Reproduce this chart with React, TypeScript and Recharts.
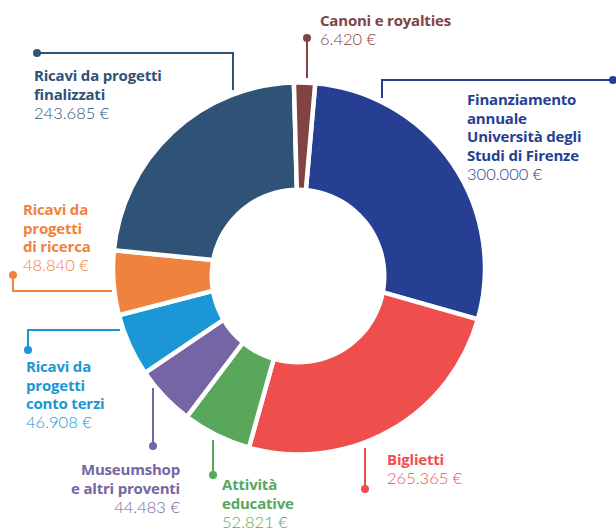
import React from "react";
import { Cell, Customized, Pie, PieChart } from "recharts";

const names = [
  "Finanziamento annuale Università degli Studi di Firenze",
  "Biglietti",
  "Attività educative",
  "Museumshop e altri proventi",
  "Ricavi da progetti conto terzi",
  "Ricavi da progetti di ricerca",
  "Ricavi da progetti finalizzati",
  "Canoni e royalties"
];
const values = [300000, 265365, 52821, 44483, 46908, 48840, 243685, 6420];
const valueLabels = [
  "300.000 €",
  "265.365 €",
  "52.821 €",
  "44.483 €",
  "46.908 €",
  "48.840 €",
  "243.685 €",
  "6.420 €"
];
const titleLines = [
  ["Finanziamento", "annuale", "Università degli", "Studi di Firenze"],
  ["Biglietti"],
  ["Attività", "educative"],
  ["Museumshop", "e altri proventi"],
  ["Ricavi da", "progetti", "conto terzi"],
  ["Ricavi da", "progetti", "di ricerca"],
  ["Ricavi da progetti", "finalizzati"],
  ["Canoni e royalties"]
];
const colors = ["#263f93", "#ef4f4c", "#58a75b", "#7565a4", "#1a97d4", "#f08240", "#2f5277", "#814344"];

// label placement: text anchor point + leader polyline (last point gets the dot)
const labelLayout = [
  { x: 467, y: 105, anchor: "start", line: [[382, 98], [382, 80], [613, 80]] },
  { x: 387, y: 465, anchor: "start", line: [[365, 448], [365, 489]] },
  { x: 222, y: 490, anchor: "start", line: [[213, 440], [213, 475]] },
  { x: 180, y: 475, anchor: "end", line: [[153, 388], [153, 446]] },
  { x: 26, y: 372, anchor: "start", line: [[120, 330], [28, 330], [28, 350]] },
  { x: 23, y: 215, anchor: "start", line: [[112, 291], [13, 291], [13, 275]] },
  { x: 34, y: 81, anchor: "start", line: [[233, 90], [233, 53], [37, 53]] },
  { x: 320, y: 26, anchor: "start", line: [[307, 78], [307, 38]] }
];

const data = names.map((name, i) => ({ name, value: values[i] }));

function Labels() {
  return (
    <g>
      {labelLayout.map((l, i) => {
        const c = colors[i];
        const pts = l.line.map((p) => p.join(",")).join(" ");
        const end = l.line[l.line.length - 1];
        const lines = titleLines[i];
        return (
          <g key={names[i]}>
            <polyline points={pts} fill="none" stroke={c} strokeWidth={2} />
            <circle cx={end[0]} cy={end[1]} r={4} fill={c} />
            <text x={l.x} y={l.y} fill={c} textAnchor={l.anchor as any}>
              {lines.map((t, k) => (
                <tspan
                  key={k}
                  x={l.x}
                  dy={k === 0 ? 0 : 18.5}
                  fontFamily="'Open Sans', sans-serif"
                  fontWeight={700}
                  fontSize={15}
                  letterSpacing={-0.2}
                >
                  {t}
                </tspan>
              ))}
              <tspan x={l.x} dy={19} fontFamily="Lato, sans-serif" fontWeight={300} fontSize={16.5}>
                {valueLabels[i]}
              </tspan>
            </text>
          </g>
        );
      })}
    </g>
  );
}

export default function App() {
  return (
    <div style={{ position: "absolute", left: 0, top: 0, width: 616, height: 528, background: "#fff" }}>
      <PieChart width={616} height={528} margin={{ top: 0, right: 0, bottom: 0, left: 0 }}>
        <Pie
          data={data}
          dataKey="value"
          nameKey="name"
          cx={299}
          cy={268.5}
          innerRadius={40}
          outerRadius={186}
          startAngle={85}
          endAngle={-275}
          minAngle={4.5}
          stroke="#ffffff"
          strokeWidth={4.5}
          isAnimationActive={false}
        >
          {data.map((d, i) => (
            <Cell key={d.name} fill={colors[i]} />
          ))}
        </Pie>
        <Pie
          data={[{ name: "hole", value: 1 }]}
          dataKey="value"
          cx={298}
          cy={276}
          outerRadius={88.5}
          fill="#ffffff"
          stroke="none"
          isAnimationActive={false}
        />
        <Customized component={Labels} />
      </PieChart>
    </div>
  );
}
